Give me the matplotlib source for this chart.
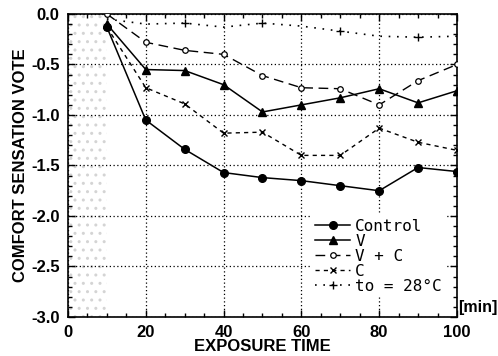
from matplotlib import pyplot as plt
from matplotlib.ticker import MultipleLocator, FormatStrFormatter

plt.rcParams['font.family'] = ['Liberation Sans', 'DejaVu Sans']

minutes = [10, 20, 30, 40, 50, 60, 70, 80, 90, 100]
control = [-0.13, -1.05, -1.34, -1.57, -1.62, -1.65, -1.70, -1.75, -1.52, -1.56]
v_only = [-0.10, -0.55, -0.56, -0.70, -0.97, -0.90, -0.83, -0.74, -0.88, -0.76]
v_plus_c = [0.00, -0.28, -0.36, -0.40, -0.61, -0.73, -0.74, -0.90, -0.66, -0.50]
c_only = [-0.13, -0.73, -0.89, -1.18, -1.17, -1.40, -1.40, -1.13, -1.27, -1.35]
to28 = [-0.05, -0.10, -0.09, -0.13, -0.09, -0.12, -0.17, -0.22, -0.23, -0.22]

fig = plt.figure(figsize=(4.98, 3.56), dpi=100)
ax = fig.add_axes([0.1365, 0.1096, 0.7811, 0.8511])

# stippled pre-exposure period
ax.axvspan(0, 10, facecolor='none', edgecolor='#d4d4d4', hatch='..', linewidth=0, zorder=0)

ax.plot(minutes, control, color='black', lw=1.1, marker='o', ms=5.5, label='Control', zorder=3)
ax.plot(minutes, v_only, color='black', lw=1.1, marker='^', ms=5.5, label='V', zorder=3)
ax.plot(minutes, v_plus_c, color='black', lw=1.0, ls=(0, (7, 4)), marker='o', ms=4,
        mfc='white', mew=0.9, label='V + C', zorder=3)
ax.plot(minutes, c_only, color='black', lw=1.0, ls=(0, (3, 3)), marker='x', ms=5,
        mew=1.0, label='C', zorder=3)
ax.plot(minutes, to28, color='black', lw=1.2, ls=(0, (1, 4)), marker='+', ms=6,
        mew=1.0, markevery=[2, 4, 6, 8], label='to = 28\u00b0C', zorder=3)

ax.set_xlim(0, 100)
ax.set_ylim(-3.0, 0.0)
ax.xaxis.set_major_locator(MultipleLocator(20))
ax.xaxis.set_minor_locator(MultipleLocator(5))
ax.yaxis.set_major_locator(MultipleLocator(0.5))
ax.yaxis.set_minor_locator(MultipleLocator(0.1))
ax.yaxis.set_major_formatter(FormatStrFormatter('%.1f'))
ax.tick_params(which='both', direction='in', top=True, right=True, width=1)
ax.tick_params(which='major', length=5, labelsize=12, pad=6)
ax.tick_params(which='minor', length=3)
for lab in ax.get_xticklabels() + ax.get_yticklabels():
    lab.set_fontweight('bold')
ax.grid(True, which='major', color='black', ls=(0, (1, 2)), lw=0.9)
for s in ax.spines.values():
    s.set_linewidth(1.2)

ax.set_xlabel('EXPOSURE TIME', fontsize=12, fontweight='bold', labelpad=-1)
ax.set_ylabel('COMFORT SENSATION VOTE', fontsize=12, fontweight='bold', labelpad=2)
ax.text(1.002, 0.03, '[min]', transform=ax.transAxes, fontsize=11.5, fontweight='bold',
        ha='left', va='center')

leg = ax.legend(loc='lower right', bbox_to_anchor=(0.99, 0.04), frameon=True, fancybox=False,
                edgecolor='none', facecolor='white', framealpha=1,
                prop={'family': 'DejaVu Sans Mono', 'size': 11.5},
                handlelength=2.2, handletextpad=0.3, labelspacing=0.0, borderpad=0.2)

plt.savefig('out.png', dpi=100)
